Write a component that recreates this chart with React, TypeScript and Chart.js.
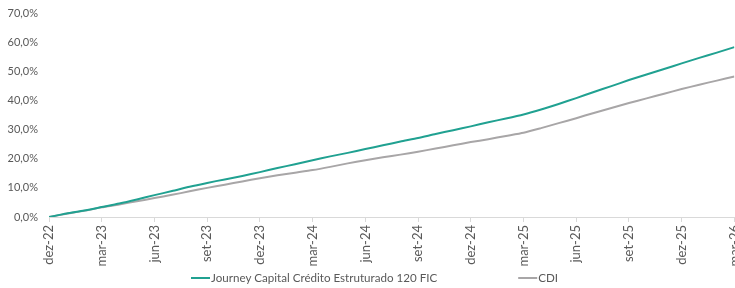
import React, { useEffect, useRef } from "react";
import { Chart, registerables } from "chart.js";

Chart.register(...registerables);

const months = [
  "dez-22", "jan-23", "fev-23", "mar-23", "abr-23", "mai-23", "jun-23", "jul-23", "ago-23", "set-23", "out-23", "nov-23",
  "dez-23", "jan-24", "fev-24", "mar-24", "abr-24", "mai-24", "jun-24", "jul-24", "ago-24", "set-24", "out-24", "nov-24",
  "dez-24", "jan-25", "fev-25", "mar-25", "abr-25", "mai-25", "jun-25", "jul-25", "ago-25", "set-25", "out-25", "nov-25",
  "dez-25", "jan-26", "fev-26", "mar-26",
];

const journey = [
  0, 1.2, 2.2, 3.4, 4.6, 6.0, 7.5, 8.9, 10.4, 11.7, 12.9, 14.1,
  15.4, 16.8, 18.1, 19.5, 20.8, 22.0, 23.3, 24.6, 25.9, 27.1, 28.5, 29.8,
  31.1, 32.5, 33.8, 35.2, 36.9, 38.8, 40.8, 42.9, 44.9, 47.0, 48.9, 50.8,
  52.7, 54.6, 56.4, 58.3,
];

const cdi = [
  0, 1.1, 2.1, 3.3, 4.3, 5.4, 6.5, 7.6, 8.8, 10.0, 11.1, 12.2,
  13.3, 14.3, 15.2, 16.1, 17.2, 18.4, 19.5, 20.5, 21.4, 22.4, 23.5, 24.6,
  25.7, 26.7, 27.8, 28.9, 30.5, 32.2, 33.9, 35.7, 37.4, 39.1, 40.7, 42.3,
  43.9, 45.4, 46.8, 48.2,
];

const seriesNames = ["Journey Capital Crédito Estruturado 120 FIC", "CDI"];
const seriesColors = ["#20a191", "#a8a6a7"];

const FONT = "Lato, 'Open Sans', sans-serif";
const TEXT = "#595959";

const legendPlugin = {
  id: "customLegend",
  afterDraw(chart: any) {
    const ctx = chart.ctx;
    const y = 278;
    const lineW = 19;
    const gap = 1;
    const itemGap = 81;
    ctx.save();
    ctx.font = `11.6px ${FONT}`;
    const items = chart.data.datasets.map((d: any) => ({
      text: d.label,
      color: d.borderColor,
      w: lineW + gap + ctx.measureText(d.label).width,
    }));
    let x = 191;
    items.forEach((it: any) => {
      ctx.strokeStyle = it.color;
      ctx.lineWidth = 2;
      ctx.beginPath();
      ctx.moveTo(x, y);
      ctx.lineTo(x + lineW, y);
      ctx.stroke();
      ctx.fillStyle = TEXT;
      ctx.textBaseline = "middle";
      ctx.textAlign = "left";
      ctx.fillText(it.text, x + lineW + gap, y);
      x += it.w + itemGap;
    });
    ctx.restore();
  },
};

export default function App() {
  const ref = useRef<HTMLCanvasElement>(null);
  useEffect(() => {
    if (!ref.current) return;
    const mk = (arr: number[]) => arr.map((v, i) => ({ x: i, y: v }));
    const chart = new Chart(ref.current, {
      type: "line",
      data: {
        datasets: [
          { label: seriesNames[0], data: mk(journey), borderColor: seriesColors[0], backgroundColor: seriesColors[0], borderWidth: 2, pointRadius: 0, tension: 0.2 },
          { label: seriesNames[1], data: mk(cdi), borderColor: seriesColors[1], backgroundColor: seriesColors[1], borderWidth: 2, pointRadius: 0, tension: 0.2 },
        ],
      },
      options: {
        animation: false,
        responsive: false,
        maintainAspectRatio: false,
        layout: { padding: { top: 13, bottom: 21, left: 0, right: 0 } },
        plugins: { legend: { display: false }, tooltip: { enabled: false } },
        scales: {
          x: {
            type: "linear",
            min: 0,
            max: months.length - 1,
            grid: { display: true, drawOnChartArea: false, drawTicks: true, tickLength: 5, color: "#d9d9d9" },
            border: { display: true, color: "#d9d9d9" },
            ticks: {
              stepSize: 3,
              autoSkip: false,
              minRotation: 90,
              maxRotation: 90,
              padding: 3,
              color: TEXT,
              font: { family: FONT, size: 13 },
              callback: (v: any) => months[v as number] ?? "",
            },
            afterFit: (s: any) => { s.height = 50; },
          },
          y: {
            min: 0,
            max: 70,
            grid: { display: false, drawTicks: true, tickLength: 8 },
            border: { display: false },
            ticks: {
              stepSize: 10,
              padding: 3,
              color: TEXT,
              font: { family: FONT, size: 11 },
              callback: (v: any) => (v as number).toFixed(1).replace(".", ",") + "%",
            },
            afterFit: (s: any) => { s.width = 49; },
          },
        },
      },
      plugins: [legendPlugin],
    });
    return () => chart.destroy();
  }, []);
  return (
    <div style={{ position: "fixed", left: 0, top: 0, width: 735, height: 288, overflow: "hidden", background: "#fff" }}>
      <canvas ref={ref} width={753} height={288} style={{ display: "block" }} />
    </div>
  );
}
